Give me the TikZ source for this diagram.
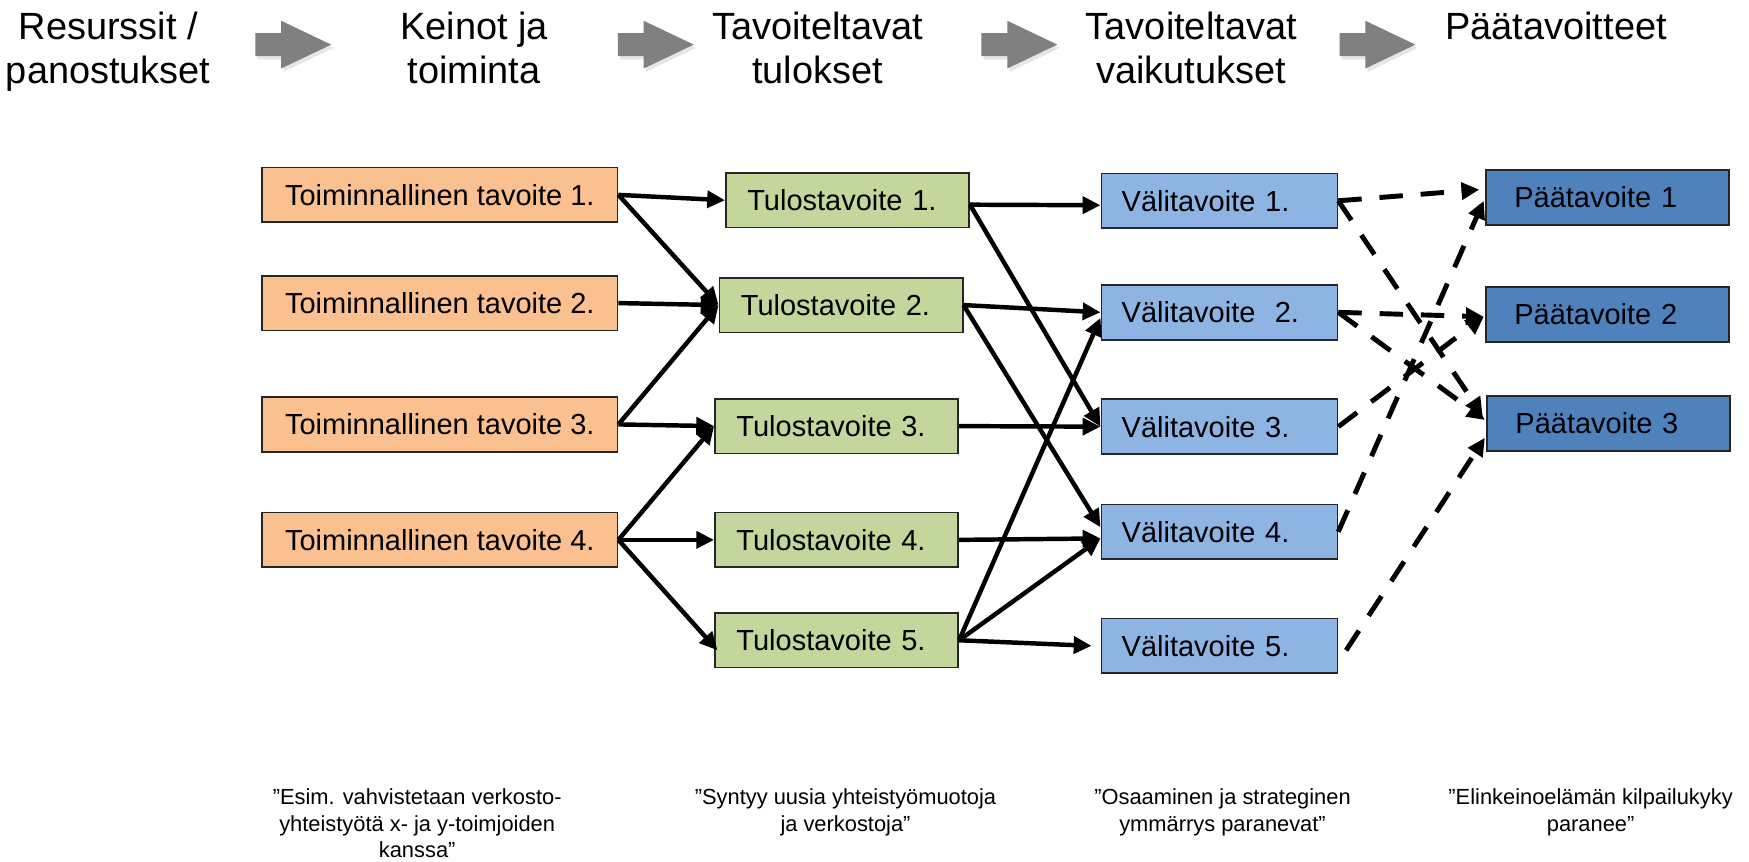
\documentclass[tikz,border=0pt]{standalone}
\usepackage{fontspec}
\setmainfont{Liberation Sans}
\usetikzlibrary{arrows.meta,positioning,calc,shapes.arrows,shadows}

\definecolor{toimfill}{HTML}{FAC090}
\definecolor{tulosfill}{HTML}{C3D69B}
\definecolor{valifill}{HTML}{8EB4E3}
\definecolor{paafill}{HTML}{4F81BD}
\definecolor{hdrgray}{HTML}{808080}

\begin{document}
\begin{tikzpicture}[x=0.5pt, y=-0.5pt, >={Triangle[length=8pt,width=7.5pt]},
    hdr/.style={anchor=north, inner sep=0pt, align=center, font=\fontsize{17}{20}\selectfont},
    hdrarrow/.style={single arrow, fill=hdrgray, draw=none, minimum height=34pt, inner xsep=0pt, inner ysep=5pt,
      single arrow head extend=5.5pt, single arrow tip angle=51, drop shadow={opacity=0.2, shadow xshift=1pt, shadow yshift=-1.5pt}},
    box/.style={draw=black!85, line width=0.8pt, minimum height=24.5pt, inner ysep=0pt, font=\fontsize{13}{15}\selectfont},
    toim/.style={box, fill=toimfill, minimum width=159.3pt, align=center},
    tulos/.style={box, fill=tulosfill, inner xsep=9.6pt, text width=89.8pt, align=left},
    vali/.style={box, fill=valifill, inner xsep=9.1pt, text width=87.6pt, align=left},
    paa/.style={box, fill=paafill, inner xsep=12.8pt, text width=83.4pt, align=left},
    note/.style={anchor=north, inner sep=0pt, align=center, font=\fontsize{9.8}{11.8}\selectfont},
    link/.style={->, line width=2pt},
    dlink/.style={->, line width=2.2pt, dash pattern=on 10.5pt off 8pt}]
    \useasboundingbox (0,0) rectangle (1568,772);

    % column headings
    \node[hdr] (hres) at (97,10) {Resurssit /\\panostukset};
    \node[hdr] (hkei) at (425,10) {Keinot ja\\toiminta};
    \node[hdr] (htul) at (733,10) {Tavoiteltavat\\tulokset};
    \node[hdr] (hvai) at (1068,10) {Tavoiteltavat\\vaikutukset};
    \node[hdr] (hpaa) at (1395,10) {Päätavoitteet};
    \node[hdrarrow] (ha1) at (252,40) {};
    \node[hdrarrow] (ha2) at (577,40) {};
    \node[hdrarrow] (ha3) at (903,40) {};
    \node[hdrarrow] (ha4) at (1224,40) {};

    % boxes
    \node[toim] (toim1) at (394.3,174.7) {Toiminnallinen tavoite 1.};
    \node[toim] (toim2) at (394.3,271.7) {Toiminnallinen tavoite 2.};
    \node[toim] (toim3) at (394.3,380.5) {Toiminnallinen tavoite 3.};
    \node[toim] (toim4) at (394.3,484) {Toiminnallinen tavoite 4.};

    \node[tulos] (tulos1) at (759.8,179.5) {Tulostavoite 1.};
    \node[tulos] (tulos2) at (754,273.5) {Tulostavoite 2.};
    \node[tulos] (tulos3) at (750,382) {Tulostavoite 3.};
    \node[tulos] (tulos4) at (750,484) {Tulostavoite 4.};
    \node[tulos] (tulos5) at (750,574) {Tulostavoite 5.};

    \node[vali] (vali1) at (1093.2,180) {Välitavoite 1.};
    \node[vali] (vali2) at (1093.2,280) {Välitavoite\ \ 2.};
    \node[vali] (vali3) at (1093.2,382.5) {Välitavoite 3.};
    \node[vali] (vali4) at (1093.2,476.7) {Välitavoite 4.};
    \node[vali] (vali5) at (1093.2,579) {Välitavoite 5.};

    \node[paa] (paa1) at (1441,177) {Päätavoite 1};
    \node[paa] (paa2) at (1441,282) {Päätavoite 2};
    \node[paa] (paa3) at (1442,379.5) {Päätavoite 3};

    % examples
    \node[note] (ex1) at (374,707) {”Esim. vahvistetaan verkosto-\\yhteistyötä x- ja y-toimjoiden\\kanssa”};
    \node[note] (ex2) at (758,707) {”Syntyy uusia yhteistyömuotoja\\ja verkostoja”};
    \node[note] (ex3) at (1096,707) {”Osaaminen ja strateginen\\ymmärrys paranevat”};
    \node[note] (ex4) at (1426,707) {”Elinkeinoelämän kilpailukyky\\paranee”};

    % actions -> outputs
    \draw[link] (toim1.east) -- (tulos1.west);
    \draw[link] (toim1.east) -- (tulos2.west);
    \draw[link] (toim2.east) -- (tulos2.west);
    \draw[link] (toim3.east) -- (tulos2.west);
    \draw[link] (toim3.east) -- (tulos3.west);
    \draw[link] (toim4.east) -- (tulos3.west);
    \draw[link] (toim4.east) -- (tulos4.west);
    \draw[link] (toim4.east) -- ($(tulos5.west)+(3,9)$);

    % outputs -> intermediate
    \draw[link] ($(tulos1.east)+(0,4)$) -- ($(vali1.west)+(0,4)$);
    \draw[link] ($(tulos1.east)+(0,4)$) -- (vali3.west);
    \draw[link] (tulos2.east) -- (vali2.west);
    \draw[link] (tulos2.east) -- ($(vali4.west)+(0,-4)$);
    \draw[link] (tulos3.east) -- (vali3.west);
    \draw[link] (tulos4.east) -- ($(vali4.west)+(0,6)$);
    \draw[link] (tulos5.east) -- ($(vali2.west)+(0,5)$);
    \draw[link] (tulos5.east) -- ($(vali4.west)+(0,6)$);
    \draw[link] (tulos5.east) -- ($(vali5.west)+(-8,0)$);

    % intermediate -> main goals
    \draw[dlink] (vali1.east) -- ($(paa1.west)+(-5,-7)$);
    \draw[dlink] (vali1.east) -- ($(paa3.west)+(-3,-7)$);
    \draw[dlink] (vali2.east) -- ($(paa2.west)+(-1,2)$);
    \draw[dlink] (vali2.east) -- ($(paa3.west)+(-1,-3)$);
    \draw[dlink] (vali3.east) -- ($(paa2.west)+(-1,2)$);
    \draw[dlink] (vali4.east) -- ($(paa1.west)+(-1,3)$);
    \draw[dlink] ($(vali5.east)+(7,4)$) -- ($(paa3.west)+(-1,13)$);
\end{tikzpicture}
\end{document}
